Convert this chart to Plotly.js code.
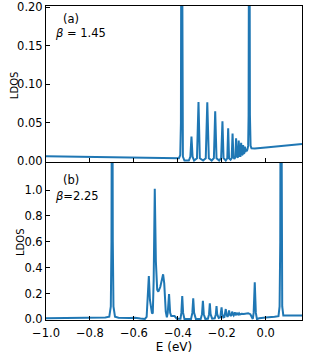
<!DOCTYPE html>
<html>
<head>
<meta charset="utf-8">
<script src="https://cdn.plot.ly/plotly-3.0.1.min.js"></script>
<style>html,body{margin:0;padding:0;background:#fff;}#chart{width:312px;height:356px;}</style>
</head>
<body>
<div id="chart"></div>
<script>
// Panel (a): beta = 1.45
const energyA = [-1.0,-0.8,-0.6,-0.45,-0.395,-0.389,-0.386,-0.383,-0.380,-0.377,-0.37,-0.35,-0.343,-0.338,-0.333,-0.326,-0.313,-0.306,-0.300,-0.285,-0.273,-0.266,-0.259,-0.246,-0.236,-0.230,-0.224,-0.212,-0.203,-0.197,-0.192,-0.182,-0.175,-0.171,-0.167,-0.160,-0.155,-0.151,-0.147,-0.142,-0.138,-0.135,-0.131,-0.126,-0.123,-0.119,-0.115,-0.112,-0.108,-0.105,-0.103,-0.100,-0.097,-0.095,-0.092,-0.089,-0.086,-0.083,-0.080,-0.078,-0.075,-0.072,-0.069,-0.065,-0.05,0.0,0.1,0.165];
const ldosA = [0.0065,0.0058,0.0050,0.0043,0.0040,0.008,0.05,0.5,0.05,0.006,0.001,0.001,0.006,0.032,0.006,0.001,0.004,0.077,0.004,0.001,0.004,0.0765,0.004,0.001,0.004,0.065,0.004,0.001,0.004,0.052,0.004,0.001,0.004,0.043,0.004,0.002,0.004,0.036,0.005,0.003,0.006,0.030,0.006,0.005,0.027,0.007,0.007,0.024,0.008,0.009,0.021,0.010,0.011,0.019,0.012,0.016,0.013,0.016,0.020,0.06,0.5,0.06,0.020,0.017,0.0167,0.018,0.0205,0.0225];

// Panel (b): beta = 2.25
const energyB = [-1.0,-0.9,-0.8,-0.73,-0.712,-0.705,-0.702,-0.699,-0.696,-0.693,-0.686,-0.67,-0.62,-0.595,-0.57,-0.55,-0.542,-0.537,-0.532,-0.527,-0.518,-0.514,-0.510,-0.505,-0.500,-0.494,-0.489,-0.480,-0.472,-0.467,-0.462,-0.455,-0.450,-0.446,-0.440,-0.435,-0.430,-0.415,-0.405,-0.388,-0.384,-0.380,-0.376,-0.370,-0.340,-0.334,-0.330,-0.326,-0.318,-0.296,-0.290,-0.286,-0.282,-0.275,-0.263,-0.258,-0.2545,-0.251,-0.244,-0.232,-0.227,-0.224,-0.221,-0.214,-0.207,-0.204,-0.201,-0.198,-0.193,-0.188,-0.185,-0.182,-0.179,-0.174,-0.171,-0.167,-0.164,-0.159,-0.156,-0.153,-0.150,-0.146,-0.143,-0.141,-0.138,-0.135,-0.132,-0.130,-0.127,-0.124,-0.121,-0.118,-0.114,-0.11,-0.10,-0.09,-0.08,-0.07,-0.063,-0.059,-0.055,-0.050,-0.045,-0.040,-0.030,-0.02,0.0,0.04,0.058,0.063,0.066,0.069,0.072,0.075,0.08,0.1,0.165];
const ldosB = [0.008,0.009,0.011,0.014,0.02,0.1,0.6,3.0,0.6,0.1,0.02,0.012,0.011,0.012,0.006,0.003,0.02,0.15,0.336,0.15,0.05,0.045,0.3,1.01,0.45,0.23,0.214,0.25,0.33,0.349,0.28,0.06,0.015,0.05,0.196,0.05,0.025,0.025,0.005,0.005,0.05,0.18,0.05,0.003,0.003,0.05,0.163,0.05,0.003,0.003,0.04,0.144,0.04,0.004,0.005,0.04,0.124,0.04,0.006,0.008,0.04,0.103,0.04,0.010,0.015,0.04,0.093,0.04,0.015,0.018,0.04,0.08,0.04,0.02,0.03,0.07,0.04,0.025,0.035,0.06,0.04,0.03,0.04,0.055,0.04,0.033,0.045,0.05,0.038,0.037,0.046,0.039,0.04,0.044,0.042,0.045,0.047,0.04,0.01,0.003,0.05,0.287,0.05,0.002,0.008,0.012,0.015,0.02,0.025,0.1,0.6,3.0,0.6,0.1,0.03,0.03,0.03];

const xTicks = [-1.0,-0.8,-0.6,-0.4,-0.2,0.0];
const yTicksA = [0.00,0.05,0.10,0.15,0.20];
const yTicksB = [0.0,0.2,0.4,0.6,0.8,1.0];
const labelsA = ['(a)','<i>β</i> = 1.45'];
const labelsB = ['(b)','<i>β</i>=2.25'];
const yTitle = 'LDOS';
const xTitle = 'E (eV)';

const blue = '#1f77b4';
const font = {family:'DejaVu Sans, sans-serif', size:11.5, color:'#000'};
const titleFont = {family:'DejaVu Sans, sans-serif', size:10, color:'#000'};

const traces = [
  {x:energyA, y:ldosA, xaxis:'x', yaxis:'y', type:'scatter', mode:'lines', line:{color:blue, width:2}, hoverinfo:'skip'},
  {x:energyB, y:ldosB, xaxis:'x2', yaxis:'y2', type:'scatter', mode:'lines', line:{color:blue, width:2}, hoverinfo:'skip'}
];

const axBase = {showgrid:false, zeroline:false, showline:true, mirror:true, linecolor:'#000', linewidth:1,
  ticks:'inside', ticklen:4, tickwidth:1, tickcolor:'#000', tickfont:font};

const layout = {
  width:312, height:356,
  margin:{l:46, r:10, t:6, b:36},
  paper_bgcolor:'#fff', plot_bgcolor:'#fff',
  showlegend:false, font:font,
  xaxis: Object.assign({}, axBase, {domain:[0,1], anchor:'y', range:[-1.0,0.165], tickvals:xTicks, showticklabels:false}),
  xaxis2: Object.assign({}, axBase, {domain:[0,1], anchor:'y2', range:[-1.0,0.165], tickvals:xTicks, tickformat:'.1f',
    ticklabelstandoff:2,
    title:{text:xTitle, font:{family:font.family, size:12, color:'#000'}, standoff:3}}),
  yaxis: Object.assign({}, axBase, {domain:[0.503,1], anchor:'x', range:[-0.001,0.2016], tickvals:yTicksA, tickformat:'.2f'}),
  yaxis2: Object.assign({}, axBase, {domain:[0,0.5], anchor:'x2', range:[-0.005,1.21], tickvals:yTicksB, tickformat:'.1f'}),
  annotations:[
    {text:yTitle, xref:'paper', yref:'paper', x:-0.125, y:0.748, xanchor:'center', yanchor:'middle', textangle:-90, showarrow:false, font:titleFont},
    {text:yTitle, xref:'paper', yref:'paper', x:-0.102, y:0.248, xanchor:'center', yanchor:'middle', textangle:-90, showarrow:false, font:titleFont},
    {text:labelsA[0], xref:'paper', yref:'paper', x:0.096, y:0.9586, xanchor:'center', yanchor:'middle', showarrow:false, font:font},
    {text:labelsA[1], xref:'paper', yref:'paper', x:0.027, y:0.914, xanchor:'left', yanchor:'middle', showarrow:false, font:font},
    {text:labelsB[0], xref:'paper', yref:'paper', x:0.098, y:0.4459, xanchor:'center', yanchor:'middle', showarrow:false, font:font},
    {text:labelsB[1], xref:'paper', yref:'paper', x:0.027, y:0.395, xanchor:'left', yanchor:'middle', showarrow:false, font:font}
  ]
};

Plotly.newPlot('chart', traces, layout, {staticPlot:true, displayModeBar:false});
</script>
</body>
</html>
